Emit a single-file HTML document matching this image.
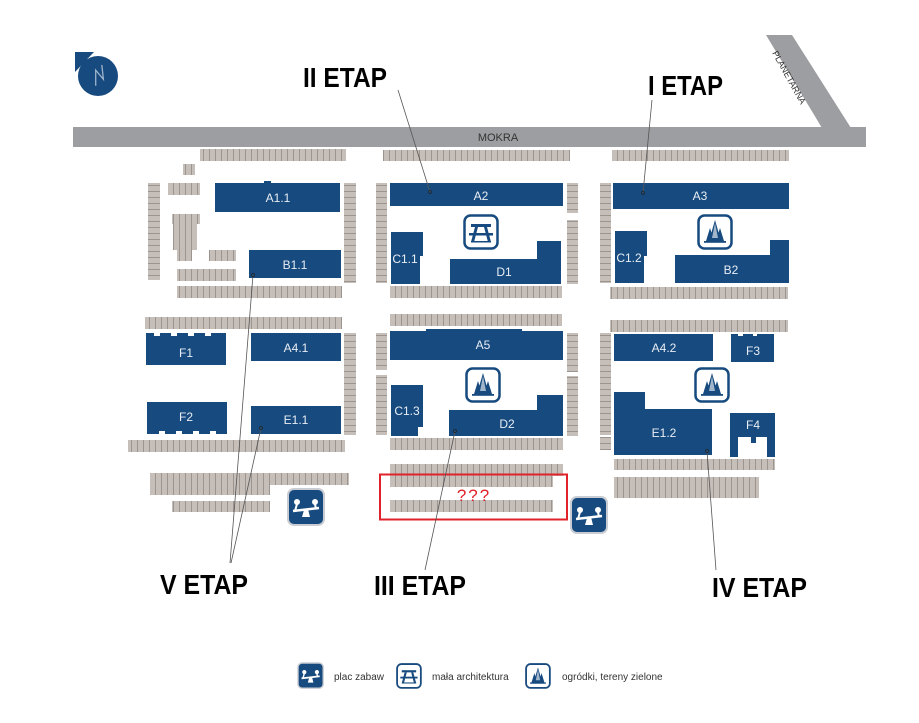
<!DOCTYPE html>
<html><head><meta charset="utf-8"><style>
html,body{margin:0;padding:0;background:#fff;}
svg{display:block;}
</style></head><body>
<svg width="919" height="723" viewBox="0 0 919 723" xmlns="http://www.w3.org/2000/svg" font-family="Liberation Sans, sans-serif">
<defs>
<pattern id="ph" width="6" height="10" patternUnits="userSpaceOnUse"><rect width="6" height="10" fill="#c5beb9"/><rect x="5" width="1" height="10" fill="#9c948f"/></pattern>
<pattern id="pv" width="10" height="6" patternUnits="userSpaceOnUse"><rect width="10" height="6" fill="#c5beb9"/><rect y="5" width="10" height="1" fill="#9c948f"/></pattern>
<g id="play"><rect x="0" y="0" width="36" height="36" rx="6" fill="#174a7e" stroke="#c9ccd2" stroke-width="2"/><g fill="#fff" stroke="#fff"><circle cx="9" cy="13" r="2.5"/><circle cx="27" cy="13" r="2.5"/><line x1="5" y1="22" x2="31" y2="19" stroke-width="2.5"/><path d="M16 21 L14 28 L22 28 L20 20 Z" stroke="none"/><line x1="9" y1="15" x2="7" y2="22" stroke-width="2"/><line x1="27" y1="15" x2="28" y2="20" stroke-width="2"/></g></g>
<g id="tree"><rect x="1.5" y="1.5" width="33" height="33" rx="6" fill="#fff" stroke="#174a7e" stroke-width="2.5"/><path d="M18 6 L24 27 L12 27 Z" fill="#174a7e"/><path d="M13 14 L17 27 L9 27 Z" fill="#174a7e"/><path d="M23 14 L27 27 L19 27 Z" fill="#174a7e"/><path d="M18 9 L21 24 L15 24 Z" fill="#fff" opacity=".6"/><rect x="7" y="27" width="22" height="1.8" fill="#174a7e"/></g>
<g id="table"><rect x="1.5" y="1.5" width="33" height="33" rx="6" fill="#fff" stroke="#174a7e" stroke-width="2.5"/><g fill="#174a7e"><rect x="8" y="10" width="20" height="3"/><rect x="6" y="19" width="24" height="2.5"/><path d="M12 13 L15 13 L11 28 L8 28 Z"/><path d="M21 13 L24 13 L28 28 L25 28 Z"/><rect x="8" y="27" width="20" height="1.5"/></g></g>
</defs>

<!-- roads -->
<rect x="73" y="127" width="793" height="20" fill="#9d9ea1"/>
<polygon points="766,35 792,35 851,128 822,128" fill="#9d9ea1"/>
<text x="498" y="141" font-size="11" text-anchor="middle" fill="#333">MOKRA</text>
<text x="0" y="0" font-size="9" fill="#333" transform="translate(772,53) rotate(61)">PLANETARNA</text>

<!-- compass -->
<circle cx="98" cy="76" r="20" fill="#174a7e"/>
<polygon points="75,52 94,52 75,72" fill="#174a7e"/>
<path d="M90 82 L100 70 L100 82 L108 70" stroke="#9fb4cc" stroke-width="1.3" fill="none" transform="rotate(-40 98 76)"/>

<!-- parking horizontal -->
<g fill="url(#ph)">
<rect x="200" y="149" width="146" height="12"/>
<rect x="183" y="164" width="12" height="11"/>
<rect x="168" y="183" width="32" height="12"/>
<rect x="172" y="214" width="28" height="10"/>
<rect x="173" y="224" width="24" height="26"/>
<rect x="177" y="250" width="15" height="11"/>
<rect x="209" y="250" width="27" height="11"/>
<rect x="177" y="269" width="59" height="12"/>
<rect x="177" y="286" width="165" height="12"/>
<rect x="145" y="317" width="197" height="12"/>
<rect x="128" y="440" width="217" height="12"/>
<rect x="150" y="473" width="199" height="12"/>
<rect x="150" y="485" width="120" height="10"/>
<rect x="172" y="501" width="98" height="11"/>
<rect x="383" y="150" width="187" height="11"/>
<rect x="390" y="286" width="172" height="12"/>
<rect x="390" y="314" width="172" height="12"/>
<rect x="390" y="438" width="173" height="12"/>
<rect x="390" y="464" width="173" height="12"/>
<rect x="390" y="476" width="163" height="11"/>
<rect x="390" y="500" width="163" height="12"/>
<rect x="612" y="150" width="177" height="11"/>
<rect x="610" y="287" width="178" height="12"/>
<rect x="610" y="320" width="178" height="12"/>
<rect x="614" y="459" width="161" height="11"/>
<rect x="614" y="477" width="145" height="21"/>
</g>
<!-- parking vertical -->
<g fill="url(#pv)">
<rect x="148" y="183" width="12" height="97"/>
<rect x="344" y="183" width="12" height="100"/>
<rect x="344" y="333" width="12" height="102"/>
<rect x="376" y="183" width="11" height="100"/>
<rect x="567" y="183" width="11" height="30"/>
<rect x="567" y="220" width="11" height="64"/>
<rect x="376" y="333" width="11" height="37"/>
<rect x="567" y="333" width="11" height="39"/>
<rect x="376" y="375" width="11" height="60"/>
<rect x="567" y="376" width="11" height="60"/>
<rect x="600" y="183" width="11" height="100"/>
<rect x="600" y="333" width="11" height="102"/>
<rect x="600" y="437" width="11" height="13"/>
</g>

<!-- buildings -->
<g fill="#174a7e">
<rect x="215" y="183" width="125" height="29"/><rect x="264" y="181" width="7" height="3"/>
<rect x="249" y="250" width="92" height="28"/>
<path d="M146 333 H154 V336 H160 V333 H171 V336 H177 V333 H188 V336 H194 V333 H205 V336 H211 V333 H226 V365 H146 Z"/>
<rect x="251" y="333" width="90" height="28"/>
<path d="M147 402 H227 V434 H216 V431 H210 V434 H199 V431 H193 V434 H182 V431 H176 V434 H165 V431 H159 V434 H147 Z"/>
<rect x="251" y="406" width="90" height="28"/>
<rect x="390" y="183" width="173" height="23"/>
<path d="M391 232 H423 V256 H420 V284 H391 Z"/>
<path d="M450 259 H537 V241 H561 V284 H450 Z"/>
<rect x="613" y="183" width="176" height="26"/>
<path d="M615 231 H647 V256 H644 V283 H615 Z"/>
<path d="M675 255 H770 V240 H789 V283 H675 Z"/>
<path d="M390 331 H426 V329 H522 V331 H563 V360 H390 Z"/>
<path d="M391 385 H423 V427 H418 V436 H391 Z"/>
<path d="M449 410 H537 V395 H563 V436 H449 Z"/>
<rect x="614" y="334" width="99" height="27"/>
<path d="M731 334 H738 V336 H743 V334 H753 V336 H757 V334 H774 V362 H731 Z"/>
<path d="M614 392 H645 V409 H712 V455 H614 Z"/>
<path d="M730 413 H775 V457 H767 V437 H756 V443 H751 V437 H738 V457 H730 Z"/>
</g>
<g fill="#e8eef5" font-size="12" text-anchor="middle">
<text x="278" y="202">A1.1</text>
<text x="295" y="269">B1.1</text>
<text x="186" y="357">F1</text>
<text x="296" y="352">A4.1</text>
<text x="186" y="421">F2</text>
<text x="296" y="424">E1.1</text>
<text x="481" y="200">A2</text>
<text x="405" y="263">C1.1</text>
<text x="504" y="276">D1</text>
<text x="700" y="200">A3</text>
<text x="629" y="262">C1.2</text>
<text x="731" y="274">B2</text>
<text x="483" y="349">A5</text>
<text x="407" y="415">C1.3</text>
<text x="507" y="428">D2</text>
<text x="664" y="352">A4.2</text>
<text x="753" y="355">F3</text>
<text x="664" y="437">E1.2</text>
<text x="753" y="429">F4</text>
</g>

<!-- icons -->
<use href="#table" x="463" y="214"/>
<use href="#tree" x="697" y="214"/>
<use href="#tree" x="465" y="367"/>
<use href="#tree" x="694" y="367"/>
<use href="#play" x="288" y="489"/>
<use href="#play" x="571" y="497"/>

<!-- red box -->
<rect x="380" y="474.5" width="187" height="45" fill="none" stroke="#e0222a" stroke-width="2"/>
<text x="474" y="501" font-size="17" fill="#e0222a" text-anchor="middle" letter-spacing="2">???</text>

<!-- leader lines -->
<g stroke="#555" stroke-width="0.8" fill="none">
<line x1="398" y1="90" x2="430" y2="192"/>
<line x1="652" y1="100" x2="643" y2="193"/>
<line x1="230" y1="563" x2="253" y2="275"/>
<line x1="231" y1="563" x2="261" y2="428"/>
<line x1="425" y1="570" x2="455" y2="431"/>
<line x1="716" y1="570" x2="707" y2="451"/>
</g>
<g fill="none" stroke="#222" stroke-width="0.7">
<circle cx="430" cy="192" r="1.5"/><circle cx="643" cy="193" r="1.5"/><circle cx="253" cy="275" r="1.5"/><circle cx="261" cy="428" r="1.5"/><circle cx="455" cy="431" r="1.5"/><circle cx="707" cy="451" r="1.5"/>
</g>

<!-- ETAP labels -->
<g font-weight="bold" font-size="28" fill="#000">
<text x="303" y="87" textLength="84" lengthAdjust="spacingAndGlyphs">II ETAP</text>
<text x="648" y="95" textLength="75" lengthAdjust="spacingAndGlyphs">I ETAP</text>
<text x="160" y="594" textLength="88" lengthAdjust="spacingAndGlyphs">V ETAP</text>
<text x="374" y="595" textLength="92" lengthAdjust="spacingAndGlyphs">III ETAP</text>
<text x="712" y="597" textLength="95" lengthAdjust="spacingAndGlyphs">IV ETAP</text>
</g>

<!-- legend -->
<g transform="translate(298,663) scale(0.7)"><use href="#play"/></g>
<g transform="translate(396,663) scale(0.72)"><use href="#table"/></g>
<g transform="translate(525,663) scale(0.72)"><use href="#tree"/></g>
<g font-size="10" fill="#333">
<text x="334" y="680">plac zabaw</text>
<text x="432" y="680">mała architektura</text>
<text x="562" y="680">ogródki, tereny zielone</text>
</g>
</svg>
</body></html>
